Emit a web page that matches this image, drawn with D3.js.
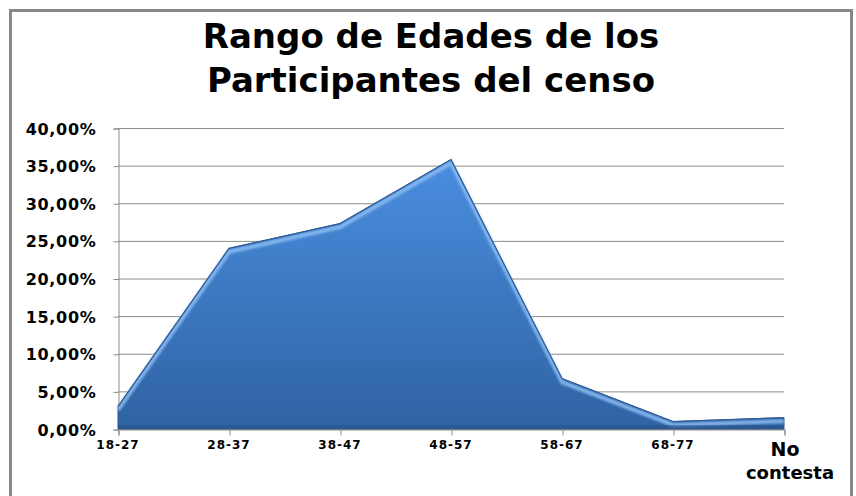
<!DOCTYPE html>
<html><head><meta charset="utf-8">
<script src="https://cdn.jsdelivr.net/npm/d3@7"></script>
<style>
body{margin:0;background:#fff;}
svg{display:block;}
text{font-family:"DejaVu Sans","Noto Sans",sans-serif;font-weight:bold;fill:#000;}
</style></head><body>
<svg id="c" width="856" height="496"></svg>
<script>
const categories = ["18-27","28-37","38-47","48-57","58-67","68-77","No contesta"];
const values = [3.0, 24.0, 27.3, 35.8, 6.7, 1.0, 1.5];
const yTicks = [0,5,10,15,20,25,30,35,40];
const titleLines = ["Rango de Edades de los","Participantes del censo"];

const svg = d3.select("#c");
const W = 856, H = 496;
const m = {left:118, right:W-784, top:128, bottom:H-429};

// outer frame
svg.append("path").attr("d","M10.5,500 L10.5,10.5 L851.5,10.5 L851.5,500")
  .attr("fill","none").attr("stroke","#878787").attr("stroke-width",3);

const x = d3.scalePoint().domain(categories).range([m.left, W-m.right]);
const y = d3.scaleLinear().domain([0,40]).range([H-m.bottom, m.top]);

const defs = svg.append("defs");
const g1 = defs.append("linearGradient").attr("id","fillg").attr("x1",0).attr("x2",0)
  .attr("gradientUnits","userSpaceOnUse").attr("y1",y(36)).attr("y2",y(0));
g1.append("stop").attr("offset","0%").attr("stop-color","#4a8ee0");
g1.append("stop").attr("offset","100%").attr("stop-color","#2f63a3");
const gf = defs.append("filter").attr("id","blur").attr("x","-5%").attr("y","-5%").attr("width","110%").attr("height","110%");
gf.append("feGaussianBlur").attr("stdDeviation",1.3);

// gridlines
svg.append("g").selectAll("line").data(yTicks).join("line")
  .attr("x1",m.left).attr("x2",W-m.right)
  .attr("y1",d=>y(d)+0.5).attr("y2",d=>y(d)+0.5)
  .attr("stroke","#8c8c8c").attr("stroke-width",1);

// y axis
const yAxis = d3.axisLeft(y).tickValues(yTicks).tickSize(5)
  .tickFormat(d=>d.toFixed(2).replace(".",",")+"%");
const ya = svg.append("g").attr("transform",`translate(${m.left+0.5},0.5)`).call(yAxis);
ya.select(".domain").attr("stroke","#8c8c8c");
ya.selectAll(".tick line").attr("stroke","#8c8c8c");
ya.selectAll(".tick text").attr("x",-22).attr("font-size",16).attr("letter-spacing","0.7px")
  .style("font-family",'"DejaVu Sans",sans-serif').attr("fill","#000").attr("dy","0.35em");

// area
const data = categories.map((c,i)=>({c, v:values[i]}));
const area = d3.area().x(d=>x(d.c)).y0(y(0)).y1(d=>y(d.v));
const line = d3.line().x(d=>x(d.c)).y(d=>y(d.v));
svg.append("path").datum(data).attr("d",area).attr("fill","url(#fillg)")
  .attr("stroke","#2a5690").attr("stroke-width",1);
// bevel highlight
svg.append("path").datum(data).attr("d",line).attr("fill","none")
  .attr("stroke","#8bbcf2").attr("stroke-width",4).attr("transform","translate(0,3.5)")
  .attr("filter","url(#blur)").attr("opacity",0.9);
svg.append("path").datum(data).attr("d",line).attr("fill","none")
  .attr("stroke","#2f5e98").attr("stroke-width",1.2);
// bottom shade
svg.append("rect").attr("x",m.left).attr("width",W-m.right-m.left).attr("y",y(0)-4).attr("height",4)
  .attr("fill","#244f86").attr("opacity",0.5);

// x axis
const xAxis = d3.axisBottom(x).tickSize(6).tickFormat("");
const xa = svg.append("g").attr("transform",`translate(0.5,${y(0)+0.5})`).call(xAxis);
xa.select(".domain").attr("stroke","#8c8c8c");
xa.selectAll(".tick line").attr("stroke","#8c8c8c");
svg.append("g").selectAll("text").data(categories.slice(0,6)).join("text")
  .attr("x",d=>x(d)).attr("y",y(0)+20).attr("text-anchor","middle")
  .attr("font-size",12).attr("letter-spacing","1px").text(d=>d);
const last = categories[6].split(" ");
svg.append("text").attr("x",x(categories[6])+1).attr("y",y(0)+27).attr("text-anchor","middle")
  .attr("font-size",19).text(last[0]);
svg.append("text").attr("x",x(categories[6])+6).attr("y",y(0)+50).attr("text-anchor","middle")
  .attr("font-size",18).text(last[1]);

// title
svg.append("g").selectAll("text").data(titleLines).join("text")
  .attr("x",431).attr("y",(d,i)=>48+i*44).attr("text-anchor","middle")
  .attr("font-size",34).text(d=>d);
</script>
</body></html>
